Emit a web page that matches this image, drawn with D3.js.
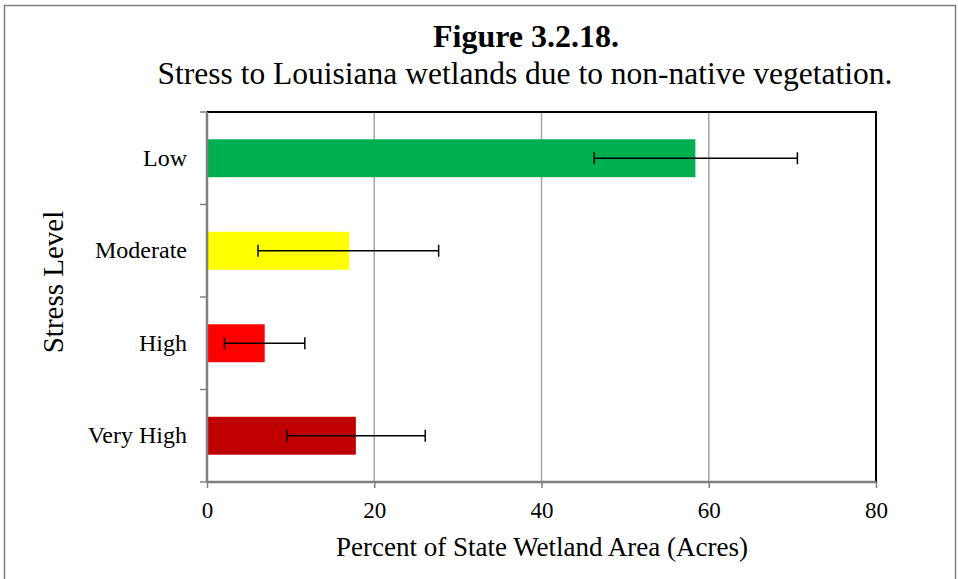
<!DOCTYPE html>
<html><head><meta charset="utf-8">
<script src="https://cdn.jsdelivr.net/npm/d3@7"></script>
<style>body{margin:0;background:#fff}svg{display:block}text{font-family:"Liberation Serif","Times New Roman",serif;fill:#000}</style>
</head><body>
<script>
const categories = ["Low", "Moderate", "High", "Very High"];
const values = [58.4, 17.0, 6.9, 17.8];
const errLow = [46.3, 6.1, 2.1, 9.6];
const errHigh = [70.6, 27.7, 11.7, 26.1];
const colors = ["#00B050", "#FFFF00", "#FF0000", "#C00000"];
const xTicks = [0, 20, 40, 60, 80];

const W = 958, H = 579;
const m = {left: 207, right: 876, top: 112, bottom: 482};
const svg = d3.select("body").append("svg").attr("width", W).attr("height", H);

svg.append("rect").attr("x", 4.5).attr("y", 5.5).attr("width", 951).attr("height", 580)
  .attr("fill", "none").attr("stroke", "#7f7f7f").attr("stroke-width", 1.5);

const x = d3.scaleLinear().domain([0, 80]).range([m.left, m.right]);
const y = d3.scaleBand().domain(categories).range([m.top, m.bottom]).paddingInner(0.59).paddingOuter(0.295);

// gridlines
svg.append("g").selectAll("line").data(xTicks.slice(1, -1)).join("line")
  .attr("x1", d => x(d)).attr("x2", d => x(d)).attr("y1", m.top).attr("y2", m.bottom)
  .attr("stroke", "#a6a6a6").attr("stroke-width", 1.5);

// plot border top/right
svg.append("path").attr("d", `M${m.left},${m.top}H${m.right}V${m.bottom}`)
  .attr("fill", "none").attr("stroke", "#000").attr("stroke-width", 2);

// bars
svg.append("g").selectAll("rect").data(categories).join("rect")
  .attr("x", x(0)).attr("y", d => y(d))
  .attr("width", (d, i) => x(values[i]) - x(0)).attr("height", y.bandwidth())
  .attr("fill", (d, i) => colors[i]);

// error bars
const eg = svg.append("g").attr("stroke", "#000").attr("stroke-width", 1.5);
categories.forEach((c, i) => {
  const cy = y(c) + y.bandwidth() / 2;
  eg.append("line").attr("x1", x(errLow[i])).attr("x2", x(errHigh[i])).attr("y1", cy).attr("y2", cy);
  [errLow[i], errHigh[i]].forEach(v => {
    eg.append("line").attr("x1", x(v)).attr("x2", x(v)).attr("y1", cy - 6).attr("y2", cy + 6);
  });
});

// x axis
const xAxis = svg.append("g").attr("transform", `translate(0,${m.bottom})`)
  .call(d3.axisBottom(x).tickValues(xTicks).tickSize(6).tickPadding(10));
xAxis.select(".domain").attr("stroke", "#808080").attr("stroke-width", 2.5).attr("d", `M${m.left},0H${m.right}`);
xAxis.selectAll(".tick line").attr("stroke", "#808080").attr("stroke-width", 1.5);
xAxis.selectAll(".tick text").attr("font-size", 23).attr("font-family", "Liberation Serif").attr("dy", "0.85em");

// y axis
const yAxis = svg.append("g").attr("transform", `translate(${m.left},0)`)
  .call(d3.axisLeft(y).tickSize(0).tickPadding(20));
yAxis.select(".domain").attr("stroke", "#808080").attr("stroke-width", 2.5).attr("d", `M0,${m.top}V${m.bottom}`);
yAxis.selectAll(".tick text").attr("font-size", 24).attr("font-family", "Liberation Serif");
// boundary ticks
const bounds = d3.range(categories.length + 1).map(i => m.top + i * (m.bottom - m.top) / categories.length);
svg.append("g").selectAll("line").data(bounds).join("line")
  .attr("x1", m.left - 7).attr("x2", m.left).attr("y1", d => d).attr("y2", d => d)
  .attr("stroke", "#808080").attr("stroke-width", 1.5);

// titles
svg.append("text").attr("x", 526).attr("y", 47).attr("text-anchor", "middle")
  .attr("font-size", 32).attr("font-weight", "bold").text("Figure 3.2.18.");
svg.append("text").attr("x", 525).attr("y", 84).attr("text-anchor", "middle")
  .attr("font-size", 31.5).text("Stress to Louisiana wetlands due to non-native vegetation.");
svg.append("text").attr("x", 542).attr("y", 556).attr("text-anchor", "middle")
  .attr("font-size", 27).text("Percent of State Wetland Area (Acres)");
svg.append("text").attr("transform", "translate(63,282) rotate(-90)").attr("text-anchor", "middle")
  .attr("font-size", 29).text("Stress Level");
</script>
</body></html>
